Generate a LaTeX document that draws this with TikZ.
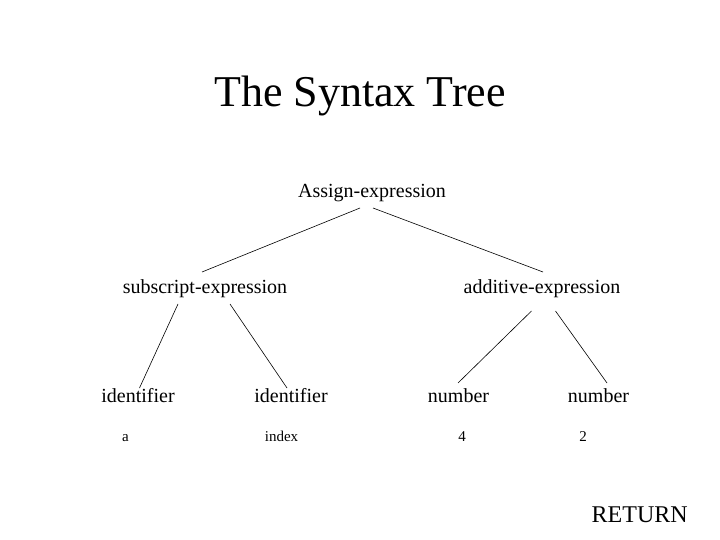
\documentclass[tikz,border=0pt]{standalone}
\usepackage{fontspec}
\setmainfont{Liberation Serif}
\usetikzlibrary{positioning, calc}

\begin{document}
\begin{tikzpicture}[x=1pt, y=-1pt, line width=0.6pt,
    term/.style={font=\fontsize{20}{24}\selectfont, inner sep=0pt, anchor=base},
    leafword/.style={font=\fontsize{15}{18}\selectfont, inner sep=0pt, anchor=base}]
      \useasboundingbox (0,0) rectangle (720,540);

      \node[anchor=base, inner sep=0pt, font=\fontsize{44}{52}\selectfont] (Title) at (360,107) {The Syntax Tree};

      \node[term] (Tree1) at (372,197) {Assign-expression};

      \node[term] (Tree2) at (205,293) {subscript-expression};
      \node[term] (Tree3) at (542,293) {additive-expression};

      \node[term] (Tree4) at (138,402) {identifier};
      \node[term] (Tree5) at (291,402) {identifier};
      \node[term] (Tree6) at (458.5,402) {number};
      \node[term] (Tree7) at (598.5,402) {number};

      \node[leafword] (Leaf4) at (125.5,441) {a};
      \node[leafword] (Leaf5) at (281.5,441) {index};
      \node[leafword] (Leaf6) at (462,441) {4};
      \node[leafword] (Leaf7) at (583,441) {2};

      \node[anchor=base east, inner sep=0pt, font=\fontsize{24}{28}\selectfont] (Return) at (688,522) {RETURN};

      \draw ($(Tree1.base)+(-12,11)$) -- ($(Tree2.base)+(-3,-21)$);
      \draw ($(Tree1.base)+(1,11)$) -- ($(Tree3.base)+(1,-21)$);
      \draw ($(Tree2.base)+(-27,11)$) -- ($(Tree4.base)+(1.5,-14)$);
      \draw ($(Tree2.base)+(25,11)$) -- ($(Tree5.base)+(-4,-14)$);
      \draw ($(Tree3.base)+(-10.5,18)$) -- ($(Tree6.base)+(-0.5,-19)$);
      \draw ($(Tree3.base)+(13.5,18)$) -- ($(Tree7.base)+(8.5,-19)$);
    \end{tikzpicture}
\end{document}
